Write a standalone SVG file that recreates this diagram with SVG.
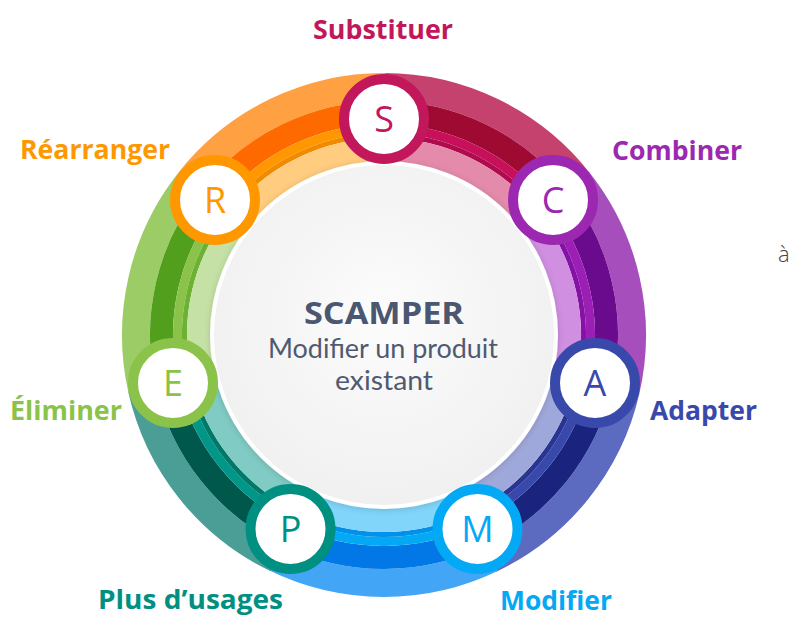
<svg xmlns="http://www.w3.org/2000/svg" xmlns:xlink="http://www.w3.org/1999/xlink" width="795" height="618" viewBox="0 0 795 618">
<style>
.lbl{font-family:"Open Sans","DejaVu Sans",sans-serif;font-weight:700;font-size:27px}
.ltr{font-family:"Open Sans","DejaVu Sans",sans-serif;font-weight:400;font-size:36px;text-anchor:middle}
.dot{fill:#ffffff;stroke-width:10}
.ctr{font-family:"Open Sans","DejaVu Sans",sans-serif;text-anchor:middle;fill:#4b5670}
.sub{font-family:Lato,"Open Sans",sans-serif;text-anchor:middle;fill:#4f5a72;font-size:26px;font-weight:400}
</style>
<defs>
<circle id="bo" cx="384" cy="335" r="248" fill="none" stroke-width="28" stroke-dasharray="224 3000"/>
<circle id="bd" cx="384" cy="335" r="222.5" fill="none" stroke-width="23" stroke-dasharray="201 3000"/>
<circle id="bm" cx="384" cy="335" r="206.5" fill="none" stroke-width="9" stroke-dasharray="186.5 3000"/>
<circle id="bt" cx="384" cy="335" r="199.5" fill="none" stroke-width="5" stroke-dasharray="180.2 3000"/>
<circle id="bi" cx="384" cy="335" r="184.5" fill="none" stroke-width="25" stroke-dasharray="166.8 3000"/>
<radialGradient id="cg" cx="50%" cy="45%" r="55%">
<stop offset="0" stop-color="#fcfcfc"/>
<stop offset="1" stop-color="#f0f0f0"/>
</radialGradient>
<filter id="sh" x="-20%" y="-20%" width="140%" height="140%">
<feDropShadow dx="0" dy="1" stdDeviation="3" flood-color="#000" flood-opacity="0.15"/>
</filter>
</defs>

<g id="ring">
<g id="seg-S" transform="rotate(-90 384 335)">
<use xlink:href="#bo" stroke="#c6426e"/><use xlink:href="#bd" stroke="#9e0a32"/><use xlink:href="#bm" stroke="#c8105a"/><use xlink:href="#bt" stroke="#b00b4f"/><use xlink:href="#bi" stroke="#e48aab"/>
</g>
<g id="seg-C" transform="rotate(-38.571 384 335)">
<use xlink:href="#bo" stroke="#a64ebc"/><use xlink:href="#bd" stroke="#6a0a8c"/><use xlink:href="#bm" stroke="#9c1fb5"/><use xlink:href="#bt" stroke="#8412a5"/><use xlink:href="#bi" stroke="#d08fe0"/>
</g>
<g id="seg-A" transform="rotate(12.857 384 335)">
<use xlink:href="#bo" stroke="#5c6bc0"/><use xlink:href="#bd" stroke="#1a237e"/><use xlink:href="#bm" stroke="#3949ab"/><use xlink:href="#bt" stroke="#283593"/><use xlink:href="#bi" stroke="#9fa8da"/>
</g>
<g id="seg-M" transform="rotate(64.286 384 335)">
<use xlink:href="#bo" stroke="#42a5f5"/><use xlink:href="#bd" stroke="#0277e6"/><use xlink:href="#bm" stroke="#03a9f4"/><use xlink:href="#bt" stroke="#0091ea"/><use xlink:href="#bi" stroke="#81d4fa"/>
</g>
<g id="seg-P" transform="rotate(115.714 384 335)">
<use xlink:href="#bo" stroke="#4a9e96"/><use xlink:href="#bd" stroke="#00574b"/><use xlink:href="#bm" stroke="#009688"/><use xlink:href="#bt" stroke="#00796b"/><use xlink:href="#bi" stroke="#80cbc4"/>
</g>
<g id="seg-E" transform="rotate(167.143 384 335)">
<use xlink:href="#bo" stroke="#9ccc65"/><use xlink:href="#bd" stroke="#529f1e"/><use xlink:href="#bm" stroke="#8bc34a"/><use xlink:href="#bt" stroke="#6db133"/><use xlink:href="#bi" stroke="#c5e1a5"/>
</g>
<g id="seg-R" transform="rotate(218.571 384 335)">
<use xlink:href="#bo" stroke="#ffa142"/><use xlink:href="#bd" stroke="#ff6a00"/><use xlink:href="#bm" stroke="#ff9800"/><use xlink:href="#bt" stroke="#f28a00"/><use xlink:href="#bi" stroke="#ffcc80"/>
</g>
</g>

<g id="center">
<circle cx="384" cy="335" r="172" fill="url(#cg)" stroke="#ffffff" stroke-width="4" filter="url(#sh)"/>
<text class="ctr" x="384" y="324" font-size="31" font-weight="700" textLength="160" lengthAdjust="spacingAndGlyphs">SCAMPER</text>
<text class="sub" x="383" y="358" textLength="230" lengthAdjust="spacingAndGlyphs">Modifier un produit</text>
<text class="sub" x="384" y="390" textLength="98" lengthAdjust="spacingAndGlyphs">existant</text>
</g>

<g id="node-S">
<circle class="dot" cx="384" cy="119" r="40" stroke="#c2185b"/>
<text class="ltr" x="384" y="132" fill="#c2185b">S</text>
<text class="lbl" x="313" y="39" fill="#c2185b" textLength="140" lengthAdjust="spacingAndGlyphs">Substituer</text>
</g>
<g id="node-C">
<circle class="dot" cx="553" cy="200" r="40" stroke="#9c27b0"/>
<text class="ltr" x="553" y="213" fill="#9c27b0">C</text>
<text class="lbl" x="612" y="160" fill="#9c27b0" textLength="130" lengthAdjust="spacingAndGlyphs">Combiner</text>
</g>
<g id="node-A">
<circle class="dot" cx="595" cy="383" r="40" stroke="#3949ab"/>
<text class="ltr" x="595" y="396" fill="#3949ab">A</text>
<text class="lbl" x="650" y="420" fill="#3949ab" textLength="107" lengthAdjust="spacingAndGlyphs">Adapter</text>
</g>
<g id="node-M">
<circle class="dot" cx="477.5" cy="529" r="40" stroke="#03a9f4"/>
<text class="ltr" x="477.5" y="542" fill="#03a9f4">M</text>
<text class="lbl" x="500" y="610" fill="#03a9f4" textLength="112" lengthAdjust="spacingAndGlyphs">Modifier</text>
</g>
<g id="node-P">
<circle class="dot" cx="290.5" cy="529" r="40" stroke="#009081"/>
<text class="ltr" x="290.5" y="542" fill="#009081">P</text>
<text class="lbl" x="98" y="609" fill="#009081" textLength="185" lengthAdjust="spacingAndGlyphs">Plus d’usages</text>
</g>
<g id="node-E">
<circle class="dot" cx="173" cy="383" r="40" stroke="#8bc34a"/>
<text class="ltr" x="173" y="396" fill="#8bc34a">E</text>
<text class="lbl" x="10" y="420" fill="#8bc34a" textLength="112" lengthAdjust="spacingAndGlyphs">Éliminer</text>
</g>
<g id="node-R">
<circle class="dot" cx="215" cy="200" r="40" stroke="#ff9800"/>
<text class="ltr" x="215" y="213" fill="#ff9800">R</text>
<text class="lbl" x="20" y="159" fill="#ff9800" textLength="150" lengthAdjust="spacingAndGlyphs">Réarranger</text>
</g>

<text x="778" y="262" font-family="Open Sans, DejaVu Sans, sans-serif" font-weight="300" font-size="22" fill="#444444">à</text>
</svg>
